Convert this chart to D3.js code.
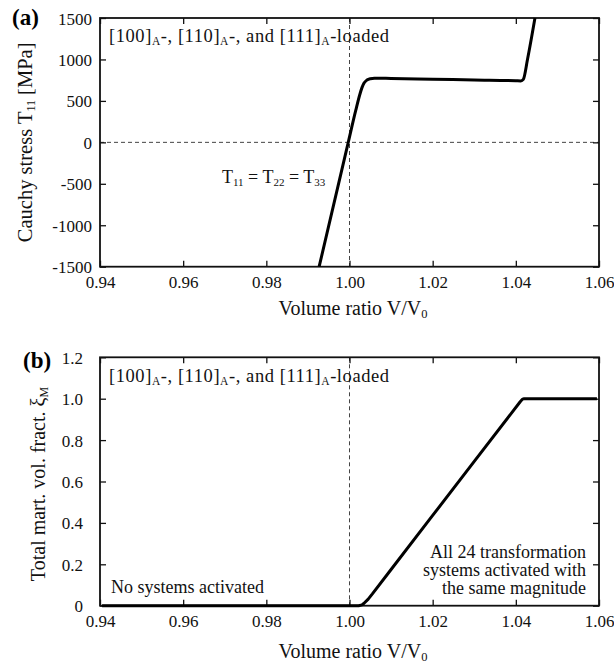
<!DOCTYPE html>
<html><head><meta charset="utf-8">
<script src="https://cdn.jsdelivr.net/npm/d3@7"></script>
<style>
body{margin:0;background:#fff;}
svg{display:block;font-family:"Liberation Serif","Times New Roman",serif;}
svg text{font-family:"Liberation Serif","Times New Roman",serif;}
</style></head>
<body><svg id="c" width="614" height="665"></svg>
<script>
// ---- data ----
const stressV = [0.9927,0.9997,1.0015,1.0025,1.0030,1.0035,1.0042,1.0050,1.0060,1.0100,1.0200,1.0300,1.0400,1.0412,1.0418,1.0428,1.0446];
const stressT = [-1500,0,385,580,660,715,752,768,774,771,762,752,743,741,760,1000,1500];
const fracV = [0.9405,1.0000,1.0022,1.0030,1.0035,1.0045,1.0055,1.0100,1.0200,1.0300,1.0410,1.0416,1.0420,1.0500,1.0595];
const fracXi = [0,0,0,0.004,0.012,0.032,0.057,0.175,0.436,0.697,0.984,0.998,1.0,1.0,1.0];
const xTicks = [0.94,0.96,0.98,1.00,1.02,1.04,1.06];
const yTicksA = [-1500,-1000,-500,0,500,1000,1500];
const yTicksB = [0,0.2,0.4,0.6,0.8,1.0,1.2];

const svg = d3.select("#c");
const L = 100, R = 599;
const FONT = '"Liberation Serif","Times New Roman",serif';
const FS = 17;     // tick labels
const TS = 18;     // annotation text
const SUB = "11px";

function panel(top, bottom, yDomain, yTicks, yFmt, xs, ys, labelOffset, curve){
  const x = d3.scaleLinear().domain([0.94,1.06]).range([L,R]);
  const y = d3.scaleLinear().domain(yDomain).range([bottom,top]);
  const g = svg.append("g");
  const refs = g.append("g");
  refs.append("line").attr("x1",x(1)).attr("x2",x(1)).attr("y1",top).attr("y2",bottom)
    .attr("stroke","#444").attr("stroke-width",1).attr("stroke-dasharray","4,3");
  const gb = g.append("g").attr("transform",`translate(0,${bottom})`)
    .call(d3.axisBottom(x).tickValues(xTicks).tickSizeInner(-6).tickSizeOuter(0).tickFormat(d3.format(".2f")));
  gb.selectAll("text").attr("dy",null).attr("y",21.5);
  const gt = g.append("g").attr("transform",`translate(0,${top})`)
    .call(d3.axisTop(x).tickValues(xTicks).tickSizeInner(-6).tickSizeOuter(0).tickFormat(""));
  const gl = g.append("g").attr("transform",`translate(${L},0)`)
    .call(d3.axisLeft(y).tickValues(yTicks).tickSizeInner(-6).tickSizeOuter(0).tickFormat(yFmt));
  gl.selectAll("text").attr("dy",null).attr("x",-labelOffset).attr("y",6);
  const gr = g.append("g").attr("transform",`translate(${R},0)`)
    .call(d3.axisRight(y).tickValues(yTicks).tickSizeInner(-6).tickSizeOuter(0).tickFormat(""));
  [gb,gt,gl,gr].forEach(a=>{
    a.attr("font-family",null).attr("font-size",null);
    a.selectAll("text").style("font-family",FONT).style("font-size",FS+"px").attr("fill","#111");
    a.select(".domain").remove();
    a.selectAll(".tick line").attr("stroke","#111").attr("stroke-width",1.3);
  });
  g.append("rect").attr("x",L).attr("y",top).attr("width",R-L).attr("height",bottom-top)
    .attr("fill","none").attr("stroke","#111").attr("stroke-width",1.8);
  const pts = xs.map((v,i)=>[v,ys[i]]);
  g.append("path").datum(pts)
    .attr("d",d3.line().x(d=>x(d[0])).y(d=>y(d[1])).curve(curve))
    .attr("fill","none").attr("stroke","#000").attr("stroke-width",3).attr("stroke-linejoin","round");
  return {x,y,g,refs};
}

const hyph = f => d => f(d).replace("\u2212","-");

// panel (a)
const A = panel(18, 266.7, [-1500,1500], yTicksA, hyph(d3.format("d")), stressV, stressT, 8, d3.curveMonotoneX);
A.refs.append("line").attr("x1",L).attr("x2",R).attr("y1",A.y(0)).attr("y2",A.y(0))
  .attr("stroke","#444").attr("stroke-width",1).attr("stroke-dasharray","4,3");

// panel (b)
const B = panel(357.3, 605.7, [0,1.2], yTicksB, d=> d===0 ? "0" : d3.format(".1f")(d), fracV, fracXi, 17, d3.curveLinear);

// texts
function addSub(t, s, fs){ t.append("tspan").text(s).attr("font-size",fs||SUB).attr("baseline-shift","-3"); }
function loadedLabel(yy){
  const t = svg.append("text").attr("x",109).attr("y",yy).attr("font-size","18.5px").attr("fill","#111")
    .attr("textLength",280).attr("lengthAdjust","spacing");
  t.append("tspan").text("[100]"); addSub(t,"A","11.5px");
  t.append("tspan").text("-, [110]"); addSub(t,"A","11.5px");
  t.append("tspan").text("-, and [111]"); addSub(t,"A","11.5px");
  t.append("tspan").text("-loaded");
}
loadedLabel(42);
loadedLabel(382);

svg.append("text").attr("x",12).attr("y",25).attr("font-size","23px").attr("font-weight","bold").text("(a)");
svg.append("text").attr("x",23).attr("y",368).attr("font-size","23px").attr("font-weight","bold").text("(b)");

// y labels
const ya = svg.append("text").attr("transform",`translate(32,${A.y(0)}) rotate(-90)`).attr("text-anchor","middle")
  .attr("font-size","20.5px").attr("fill","#111");
ya.append("tspan").text("Cauchy stress T");
ya.append("tspan").text("11").attr("font-size","12px").attr("baseline-shift","-3");
ya.append("tspan").text(" [MPa]");

const yb = svg.append("text").attr("transform",`translate(45,484) rotate(-90)`).attr("text-anchor","middle")
  .attr("font-size","20px").attr("fill","#111");
yb.append("tspan").text("Total mart. vol. fract. ξ");
yb.append("tspan").text("M").attr("font-size","12px").attr("baseline-shift","-3");

// x labels
[315,658].forEach(yy=>{
  const t = svg.append("text").attr("x",353).attr("y",yy).attr("text-anchor","middle").attr("font-size","20px").attr("fill","#111");
  t.append("tspan").text("Volume ratio V/V");
  t.append("tspan").text("0").attr("font-size","12.5px").attr("baseline-shift","-3");
});

// annotation T11 = T22 = T33
const tt = svg.append("text").attr("x",222).attr("y",183).attr("font-size",TS+"px").attr("fill","#111");
tt.append("tspan").text("T"); addSub(tt,"11");
tt.append("tspan").text(" = T"); addSub(tt,"22");
tt.append("tspan").text(" = T"); addSub(tt,"33");

svg.append("text").attr("x",111).attr("y",593).attr("font-size",TS+"px").attr("fill","#111").text("No systems activated");
["All 24 transformation","systems activated with","the same magnitude"].forEach((s,i)=>{
  svg.append("text").attr("x",586).attr("y",557.5+i*18.2).attr("text-anchor","end").attr("font-size",TS+"px").attr("fill","#111").text(s);
});
</script></body></html>
